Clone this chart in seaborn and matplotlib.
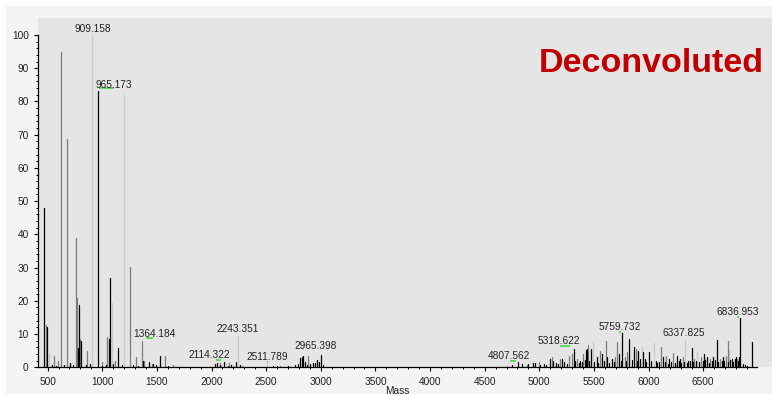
import numpy as np
import pandas as pd
import matplotlib
matplotlib.use("Agg")
import matplotlib.pyplot as plt
from matplotlib.patches import Rectangle
from matplotlib.ticker import FixedLocator
import seaborn as sns

# ---- deconvoluted spectrum: mass / relative intensity per trace tone ----
black_mass = [
    470, 494, 540, 575, 650, 705, 735, 781, 790, 808,
    850, 888, 965.173, 995, 1030, 1065, 1074, 1100, 1147, 1180,
    1280, 1330, 1370, 1425, 1462, 1490, 1531, 1600, 2032, 2048,
    2080, 2114.322, 2150, 2180, 2224, 2260, 2560, 2600, 2700, 2760,
    2790, 2810, 2826, 2840, 2856, 2870, 2900, 2932, 2950, 2965.398,
    2985, 3002, 3023, 4750, 4807.562, 4842, 4897, 4943, 4961, 5010,
    5040, 5060, 5098, 5125, 5150, 5170, 5210, 5230, 5250, 5318.622,
    5330, 5360, 5372, 5390, 5415, 5427, 5439, 5458, 5470, 5500,
    5525, 5540, 5577, 5595, 5622, 5640, 5663, 5680, 5732, 5745,
    5759.732, 5795, 5824, 5845, 5867, 5895, 5906, 5925, 5952, 5967,
    5980, 6007, 6020, 6068, 6080, 6100, 6135, 6150, 6175, 6190,
    6210, 6240, 6258, 6275, 6288, 6300, 6325, 6350, 6364, 6380,
    6395, 6405, 6430, 6460, 6495, 6510, 6520, 6532, 6550, 6580,
    6592, 6610, 6629, 6640, 6670, 6684, 6695, 6730, 6750, 6761,
    6770, 6790, 6800, 6815, 6825, 6836.953, 6860, 6880, 6905, 6949,
]
black_int = [
    48, 12.2, 0.6, 0.5, 0.8, 1.3, 0.6, 5.8, 18.7, 7.8,
    0.7, 1.0, 83, 0.5, 0.6, 8.5, 27, 1.0, 5.8, 0.6,
    0.8, 0.5, 2.0, 1.5, 1.0, 0.6, 3.3, 0.4, 1.0, 1.3,
    0.6, 1.6, 0.5, 0.8, 1.6, 0.6, 0.5, 0.4, 0.5, 0.6,
    1.0, 2.7, 3.2, 3.4, 1.5, 0.8, 1.0, 1.2, 1.3, 2.2,
    1.5, 3.7, 0.8, 0.8, 1.5, 1.0, 1.0, 1.2, 1.2, 0.8,
    1.0, 0.7, 2.4, 2.0, 1.2, 0.9, 2.5, 1.5, 1.1, 5.6,
    1.8, 1.3, 2.0, 1.6, 2.2, 5.2, 5.5, 2.0, 5.4, 1.7,
    3.0, 1.4, 4.0, 1.9, 3.0, 1.2, 2.5, 1.6, 4.0, 2.0,
    10.2, 1.8, 8.4, 2.2, 6.0, 1.9, 5.0, 2.4, 4.5, 2.5,
    1.5, 4.7, 1.8, 2.0, 1.3, 1.6, 3.0, 1.5, 1.1, 2.5,
    1.7, 1.4, 3.5, 1.9, 2.5, 1.2, 1.6, 1.3, 2.0, 1.8,
    5.7, 1.5, 2.0, 1.6, 1.8, 3.9, 2.1, 3.0, 1.4, 1.9,
    3.0, 2.2, 8.2, 1.6, 1.8, 3.0, 2.0, 1.7, 2.1, 2.5,
    1.5, 2.4, 3.0, 1.9, 3.0, 14.9, 1.0, 0.6, 0.5, 7.7,
]

gray_mass = [
    483, 561, 598, 620, 675, 705, 760, 772, 799, 858,
    995, 1044, 1117, 1251, 1306, 1364.184, 1382, 1455, 1572, 1648,
    2078, 2163, 2276, 2627, 2886, 4702, 4888, 4998, 5114, 5189,
    5275, 5297, 5342, 5403, 5448, 5556, 5608, 5693, 5714, 5784,
    5805, 5885, 6111, 6159, 6226, 6312, 6416, 6480, 6562, 6654,
    6709, 6724, 6812,
]
gray_int = [
    12.8, 3.5, 2.0, 95, 68.7, 1.2, 38.9, 21, 8.5, 5.0,
    1.5, 9.2, 2.0, 30.2, 3.0, 8.0, 1.8, 1.0, 3.3, 0.6,
    1.2, 1.2, 0.5, 0.5, 3.4, 0.5, 0.6, 1.5, 3.2, 2.4,
    3.4, 4.0, 2.6, 4.0, 6.7, 5.0, 8.0, 3.0, 7.7, 3.0,
    4.5, 5.5, 6.2, 3.5, 4.4, 3.0, 2.5, 3.0, 2.5, 2.5,
    3.5, 8.0, 2.5,
]

light_mass = [510, 909.158, 1092, 1202, 1681, 2133, 2200, 2243.351,
              2511.789, 5489, 5937, 6050, 6337.825, 6446, 6739]
light_int = [4.0, 100, 19.3, 82, 0.3, 1.2, 1.0, 9.5,
             1.3, 7.9, 6.4, 7.4, 8.2, 4.5, 5.2]

# annotated peaks (masses printed above the sticks)
label_masses = [909.158, 965.173, 1364.184, 2114.322, 2243.351, 2511.789,
                2965.398, 4807.562, 5318.622, 5759.732, 6337.825, 6836.953]

x_ticks = [500, 1000, 1500, 2000, 2500, 3000, 3500, 4000, 4500, 5000, 5500, 6000, 6500]
y_ticks = [0, 10, 20, 30, 40, 50, 60, 70, 80, 90, 100]

# label placement (pixel offsets from the stick top)
label_dx = [0, 15, 12.5, -14.5, 0, 0, -1.5, -9, -15, -2.5, -2, -2.5]
label_dy = [3, 3.5, 4, 4, 4, 3, 10.7, 3.6, 4.4, 3.4, 4, 2.8]
# small green peak-pick markers: (mass, x from, x to, lift) in pixels
pick_marks = [(965.173, 0.6, 15.3, 3.4), (1364.184, 4, 10.6, 2.4),
              (2114.322, -7.5, -2.8, 1.7), (2511.789, -0.7, 0.7, 1.0),
              (4807.562, -8.3, -2.7, 1.6), (5318.622, -14.4, -4.4, 2.7),
              (5759.732, -3, -1, 1.7), (6836.953, -3, -1, 0.5)]

# ---- long table: each stick is a two-point unit (base, apex) ----
rows = []
pid = 0
for tone, masses, ints in (("light", light_mass, light_int),
                           ("gray", gray_mass, gray_int),
                           ("black", black_mass, black_int)):
    for m, v in zip(masses, ints):
        rows.append((pid, tone, m, 0.0))
        rows.append((pid, tone, m, v))
        pid += 1
spec = pd.DataFrame(rows, columns=["peak", "tone", "Mass", "Intensity"])
apex = spec[spec["Intensity"] > 0].set_index("Mass")["Intensity"]

sns.set_style("ticks")
plt.rcParams["font.family"] = ["Liberation Sans", "DejaVu Sans"]

W, H = 775, 394
fig = plt.figure(figsize=(W / 100, H / 100), dpi=100, facecolor="white")
fig.patches.append(Rectangle((6 / W, 0), (772 - 6) / W, (H - 6) / H,
                             transform=fig.transFigure, facecolor="#f4f4f4",
                             edgecolor="none", zorder=-2))
ax = fig.add_axes([38 / W, (H - 367.3) / H, (772 - 38) / W, (367.3 - 18) / H])
ax.set_facecolor("#e5e5e5")

sns.lineplot(data=spec, x="Mass", y="Intensity", units="peak", estimator=None,
             hue="tone", hue_order=["light", "gray", "black"],
             palette={"light": "#c9c9c9", "gray": "#7c7c7c", "black": "#000000"},
             sort=False, legend=False, linewidth=0.9, ax=ax)

ax.set_xlim(412, 7130)
ax.set_ylim(0, 105.1)
ax.set_xlabel("")
ax.set_ylabel("")

for s in ("top", "right"):
    ax.spines[s].set_visible(False)
ax.spines["bottom"].set_bounds(412, 6990)
ax.spines["left"].set_bounds(0, 100)
for s in ("bottom", "left"):
    ax.spines[s].set_color("black")
    ax.spines[s].set_linewidth(0.9)

ax.set_xticks(x_ticks)
ax.set_yticks(y_ticks)
ax.xaxis.set_minor_locator(FixedLocator(np.arange(500, 7000, 100)))
ax.yaxis.set_minor_locator(FixedLocator(np.arange(0, 101, 2)))
ax.tick_params(which="major", direction="out", length=3.2, width=0.8,
               color="black", labelsize=7.3, labelcolor="#222222", pad=3.5)
ax.tick_params(which="minor", direction="out", length=1.6, width=0.7, color="black")
ax.grid(False)

# peak annotations
for m, dx, dy in zip(label_masses, label_dx, label_dy):
    ax.annotate(f"{m:.3f}", xy=(m, apex[m]), xytext=(dx, dy),
                textcoords="offset pixels", ha="center", va="baseline",
                fontsize=7.3, color="#222222", annotation_clip=False)

# peak-pick markers
fig.canvas.draw()
inv = ax.transData.inverted()
for m, a, b, lift in pick_marks:
    px, py = ax.transData.transform((m, apex[m]))
    (x0, y0), (x1, y1) = inv.transform([(px + a, py + lift), (px + b, py + lift)])
    ax.plot([x0, x1], [y0, y1], color="#3ad23a", linewidth=1.1,
            solid_capstyle="butt", clip_on=False)

fig.text(764 / W, (H - 71.7) / H, "Deconvoluted", ha="right", va="baseline",
         fontsize=24.5, fontweight="bold", color="#c00000")
fig.text(397 / W, (H - 393.5) / H, "Mass", ha="center", va="baseline",
         fontsize=7.3, color="#222222")

fig.savefig("out.png", dpi=100, facecolor=fig.get_facecolor())
